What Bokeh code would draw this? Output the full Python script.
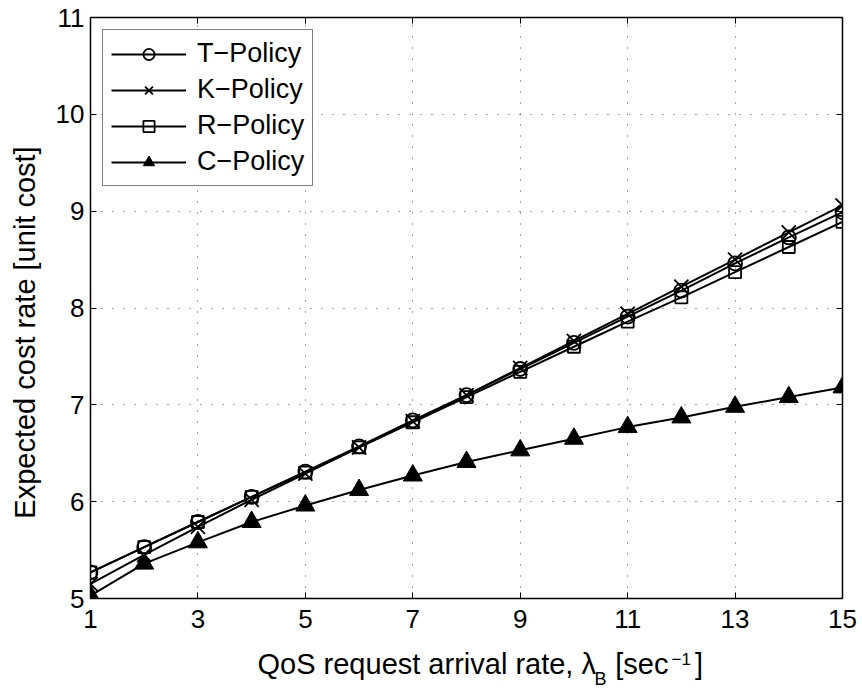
import math
from bokeh.plotting import figure
from bokeh.models import Range1d, LinearAxis, FixedTicker, Label
from bokeh.embed import file_html
from bokeh.resources import INLINE

# ---- data ----
lam = [1, 2, 3, 4, 5, 6, 7, 8, 9, 10, 11, 12, 13, 14, 15]
t_policy = [5.27, 5.53, 5.79, 6.05, 6.31, 6.57, 6.84, 7.10, 7.37, 7.64, 7.91, 8.18, 8.46, 8.73, 8.99]
k_policy = [5.15, 5.45, 5.74, 6.02, 6.29, 6.56, 6.83, 7.10, 7.38, 7.66, 7.94, 8.22, 8.50, 8.78, 9.06]
r_policy = [5.27, 5.53, 5.79, 6.05, 6.30, 6.56, 6.82, 7.08, 7.34, 7.60, 7.86, 8.11, 8.37, 8.63, 8.89]
c_policy = [5.03, 5.36, 5.58, 5.79, 5.96, 6.12, 6.27, 6.41, 6.53, 6.65, 6.77, 6.87, 6.98, 7.08, 7.18]
x_ticks = [1, 3, 5, 7, 9, 11, 13, 15]
y_ticks = [5, 6, 7, 8, 9, 10, 11]
series_names = ["T\u2212Policy", "K\u2212Policy", "R\u2212Policy", "C\u2212Policy"]
x_title_main = "QoS request arrival rate, \u03bb\u2002\u2006[sec\u2002\u2005\u2006]"
x_title_sub = "B"
x_title_sup = "\u22121"
y_title = "Expected cost rate [unit cost]"

FONT = "Liberation Sans"
W, H = 862, 689
X0, X1, Y0, Y1 = 1, 15, 5, 11
FL, FR, FT, FB = 90, 842, 17, 598   # intended frame edges in canvas pixels


def cx(px):
    """canvas x pixel -> x data value (for placing title text outside the frame)"""
    return X0 + (px - FL) * (X1 - X0) / (FR - FL)


def cy(py):
    """canvas y pixel (from top) -> y data value"""
    return Y0 + (FB - py) * (Y1 - Y0) / (FB - FT)


p = figure(width=W, height=H, output_backend="svg", toolbar_location=None,
           x_range=Range1d(X0, X1), y_range=Range1d(Y0, Y1),
           min_border_left=FL, min_border_right=W - FR, min_border_top=FT,
           min_border_bottom=H - FB)
p.background_fill_color = "white"
p.border_fill_color = "white"
p.outline_line_color = "black"
p.outline_line_width = 1.5
p.outline_line_alpha = 1.0

xt = FixedTicker(ticks=x_ticks, minor_ticks=[])
yt = FixedTicker(ticks=y_ticks, minor_ticks=[])

for ax, tk in ((p.xaxis[0], xt), (p.yaxis[0], yt)):
    ax.ticker = tk
    ax.axis_line_color = None
    ax.major_tick_in = 6
    ax.major_tick_out = 0
    ax.major_tick_line_color = "black"
    ax.major_tick_line_width = 1
    ax.minor_tick_line_color = None
    ax.major_label_text_font = FONT
    ax.major_label_text_font_size = "26px"
    ax.major_label_text_color = "black"
    ax.axis_label = None
p.xaxis[0].major_label_standoff = 11
p.yaxis[0].major_label_standoff = 6

# ticks on top and right (box), no labels drawn
top_ax = LinearAxis(ticker=FixedTicker(ticks=x_ticks, minor_ticks=[]), axis_line_color=None,
                    major_tick_in=6, major_tick_out=0, major_label_text_font_size="1px",
                    major_label_text_color=None, major_label_standoff=0,
                    minor_tick_line_color=None)
right_ax = LinearAxis(ticker=FixedTicker(ticks=y_ticks, minor_ticks=[]), axis_line_color=None,
                      major_tick_in=6, major_tick_out=0, major_label_text_font_size="1px",
                      major_label_text_color=None, major_label_standoff=0,
                      minor_tick_line_color=None)
p.add_layout(top_ax, "above")
p.add_layout(right_ax, "right")

# dotted grid
for g, tk in ((p.xgrid[0], xt), (p.ygrid[0], yt)):
    g.ticker = tk
    g.grid_line_color = "#222222"
    g.grid_line_width = 1
    g.grid_line_dash = "1 10"
    g.grid_line_alpha = 0.8

# series
lw = 2
p.line(lam, t_policy, line_color="black", line_width=lw, legend_label=series_names[0])
p.scatter(lam, t_policy, marker="circle", size=14, fill_color=None, line_color="black",
          line_width=1.8, legend_label=series_names[0])
p.line(lam, k_policy, line_color="black", line_width=lw, legend_label=series_names[1])
p.scatter(lam, k_policy, marker="x", size=20, line_color="black",
          line_width=1.8, legend_label=series_names[1])
p.line(lam, r_policy, line_color="black", line_width=lw, legend_label=series_names[2])
p.scatter(lam, r_policy, marker="square", size=12, fill_color=None, line_color="black",
          line_width=1.8, legend_label=series_names[2])
p.line(lam, c_policy, line_color="black", line_width=lw, legend_label=series_names[3])
p.scatter(lam, c_policy, marker="triangle", size=19, fill_color="black", line_color="black",
          line_width=1, legend_label=series_names[3])

lg = p.legend[0]
lg.location = "top_left"
lg.margin = 12
lg.padding = 8
lg.spacing = 5
lg.label_height = 28
lg.glyph_height = 28
lg.glyph_width = 75
lg.label_standoff = 11
lg.border_line_color = "black"
lg.border_line_width = 1
lg.background_fill_color = "white"
lg.background_fill_alpha = 1.0
lg.label_text_font = FONT
lg.label_text_font_size = "27px"
lg.label_text_color = "black"


# axis titles: labels placed in side panels (so they are not clipped to the frame)
def title_label(text, px, py, size, side, align="left", baseline="alphabetic", angle=0.0):
    lab = Label(x=cx(px), y=cy(py), x_units="data", y_units="data", text=text,
                text_font=FONT, text_font_size=size, text_color="black",
                text_align=align, text_baseline=baseline, angle=angle)
    p.add_layout(lab, side)


title_label(x_title_main, 257, 663, "29px", "below")
title_label(y_title, 24, 332, "29px", "left", align="center", baseline="middle",
            angle=math.pi / 2)
title_label(x_title_sup, 671, 658, "17px", "left")
title_label(x_title_sub, 594, 678, "18px", "right")

open("out.html", "w").write(file_html(p, INLINE))
